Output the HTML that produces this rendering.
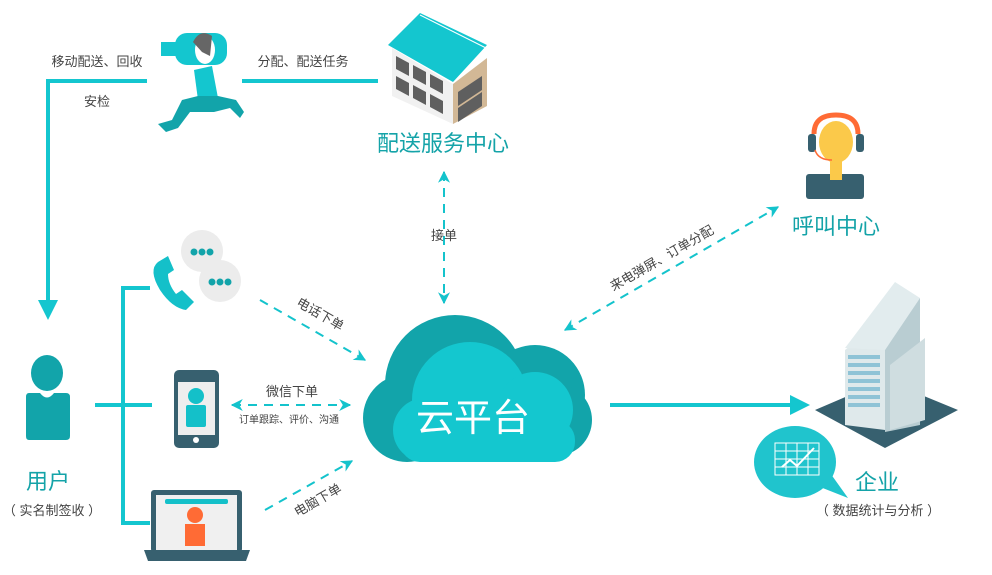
<!DOCTYPE html>
<html><head><meta charset="utf-8"><style>
html,body{margin:0;padding:0;background:#fff;}
svg{display:block;}
text{font-family:"Liberation Sans","Noto Sans CJK SC",sans-serif;}
</style></head><body>
<svg width="992" height="575" viewBox="0 0 992 575" xmlns="http://www.w3.org/2000/svg">
<defs>
<marker id="ah" viewBox="0 0 10 10" refX="9" refY="5" markerWidth="6" markerHeight="6" orient="auto-start-reverse"><path d="M0,0 L10,5 L0,10 L3,5 z" fill="#14c3cc"/></marker>
</defs>
<g stroke="#14c6cf" stroke-width="4" fill="none">
<path d="M48,81 H147"/>
<path d="M48,79 V302"/>
<path d="M242,81 H378"/>
<path d="M150,288 H123 V523 H150"/>
<path d="M95,405 H152"/>
<path d="M610,405 H792"/>
</g>
<polygon points="38,300 58,300 48,320" fill="#14c6cf"/>
<polygon points="790,395 810,405 790,415" fill="#14c6cf"/>
<g stroke="#14c3cc" stroke-width="2" stroke-dasharray="9,7" fill="none" marker-end="url(#ah)">
<path d="M444,172 V303" marker-start="url(#ah)"/>
<path d="M260,300 L365,360"/>
<path d="M232,405 H350" marker-start="url(#ah)"/>
<path d="M265,510 L352,461"/>
<path d="M565,330 L778,207" marker-start="url(#ah)"/>
</g>
<!-- cloud -->
<g fill="#12a4aa">
<circle cx="455" cy="385" r="70"/>
<circle cx="535" cy="395" r="50"/>
<circle cx="407" cy="418" r="44"/>
<circle cx="556" cy="420" r="36"/>
<rect x="400" y="400" width="170" height="62" rx="30"/>
</g>
<g fill="#14c7cf">
<circle cx="470" cy="400" r="58"/>
<circle cx="535" cy="410" r="38"/>
<circle cx="425" cy="430" r="32"/>
<rect x="400" y="420" width="175" height="42" rx="20"/>
</g>
<text x="473" y="431" font-size="38" fill="#fff" text-anchor="middle">云平台</text>
<!-- user -->
<ellipse cx="47" cy="373" rx="16" ry="18" fill="#12a4aa"/>
<path d="M29,393 H40 Q47,402 54,393 H66 Q70,393 70,397 V436 Q70,440 66,440 H29 Q26,440 26,436 V397 Q26,393 29,393z" fill="#12a4aa"/>
<!-- runner -->
<rect x="175" y="33" width="52" height="32" rx="12" fill="#14c6cf"/>
<rect x="161" y="42" width="16" height="14" fill="#14c6cf"/>
<ellipse cx="205" cy="50" rx="10" ry="14" fill="#fff"/>
<path d="M193,42 Q200,28 212,36 L210,56 L202,52z" fill="#666"/>
<path d="M194,70 L212,66 L218,98 L198,100z" fill="#14c6cf"/>
<path d="M198,96 L218,96 L236,100 L244,112 L240,118 L230,108 L214,112 L190,112 L178,128 L166,132 L158,124 L172,120 L182,100z" fill="#12a4aa"/>
<!-- building -->
<polygon points="392,48 453,84 453,124 392,96" fill="#f1f1f1"/>
<polygon points="453,84 487,58 487,106 453,124" fill="#d2b896"/>
<polygon points="388,45 420,13 487,45 453,82" fill="#14c6cf"/>
<line x1="420" y1="15" x2="486" y2="48" stroke="#fff" stroke-width="1"/>
<g fill="#5f5f5f">
<polygon points="396,56 409,63 409,76 396,69"/><polygon points="413,65 426,72 426,85 413,78"/><polygon points="430,74 443,81 443,94 430,87"/>
<polygon points="396,76 409,83 409,96 396,89"/><polygon points="413,85 426,92 426,105 413,98"/><polygon points="430,94 443,101 443,114 430,107"/>
<polygon points="458,92 482,76 482,90 458,106"/><polygon points="458,108 482,92 482,106 458,122"/>
</g>
<text x="443" y="151" font-size="22" fill="#14a3a8" text-anchor="middle">配送服务中心</text>
<!-- chat + phone -->
<circle cx="202" cy="251" r="21" fill="#ececec"/>
<circle cx="220" cy="281" r="21" fill="#ececec"/>
<g fill="#12a4aa"><circle cx="194" cy="252" r="3.5"/><circle cx="202" cy="252" r="3.5"/><circle cx="210" cy="252" r="3.5"/>
<circle cx="212" cy="282" r="3.5"/><circle cx="220" cy="282" r="3.5"/><circle cx="228" cy="282" r="3.5"/></g>
<path d="M158,262 Q148,270 160,290 Q172,308 186,310 L194,302 L182,290 L176,294 Q168,284 168,274 L174,270 L168,256z" fill="#14c0c9"/>
<!-- mobile -->
<rect x="174" y="370" width="45" height="78" rx="5" fill="#37606f"/>
<rect x="178" y="382" width="37" height="53" fill="#eee"/>
<circle cx="196" cy="396" r="8" fill="#14c0c9"/>
<rect x="186" y="405" width="20" height="22" rx="2" fill="#14c0c9"/>
<circle cx="196" cy="440" r="3" fill="#fff"/>
<!-- laptop -->
<rect x="151" y="490" width="91" height="62" rx="3" fill="#37606f"/>
<rect x="156" y="495" width="81" height="55" fill="#f0f0f0"/>
<rect x="165" y="499" width="63" height="5" rx="2" fill="#14c0c9"/>
<circle cx="195" cy="515" r="8" fill="#ff6b35"/>
<rect x="185" y="524" width="20" height="22" fill="#ff6b35"/>
<path d="M144,550 H250 L246,561 H148z" fill="#37606f"/>
<!-- call center -->
<path d="M814,134 Q814,115 836,115 Q858,115 858,134" stroke="#ff6b35" stroke-width="5" fill="none"/>
<ellipse cx="836" cy="142" rx="17" ry="21" fill="#fbc94a"/>
<rect x="830" y="160" width="12" height="18" fill="#fbc94a"/>
<rect x="808" y="134" width="8" height="18" rx="3" fill="#37606f"/>
<rect x="856" y="134" width="8" height="18" rx="3" fill="#37606f"/>
<path d="M815,150 Q818,160 832,160" stroke="#ff6b35" stroke-width="1.5" fill="none"/>
<rect x="806" y="174" width="58" height="25" rx="3" fill="#37606f"/>
<rect x="830" y="174" width="12" height="6" fill="#fbc94a"/>
<text x="836" y="234" font-size="22" fill="#14a3a8" text-anchor="middle">呼叫中心</text>
<!-- enterprise -->
<polygon points="815,410 885,380 958,410 885,448" fill="#37606f"/>
<polygon points="845,350 885,320 885,430 845,425" fill="#dfe9eb"/>
<polygon points="845,348 895,282 920,298 885,350" fill="#e2ecee"/>
<polygon points="885,350 920,298 920,425 885,432" fill="#b9cdd2"/>
<polygon points="890,365 925,338 925,420 890,430" fill="#cfdde0"/>
<g fill="#8fc3d6"><rect x="848" y="355" width="32" height="4"/><rect x="848" y="363" width="32" height="4"/><rect x="848" y="371" width="32" height="4"/><rect x="848" y="379" width="32" height="4"/><rect x="848" y="387" width="32" height="4"/><rect x="848" y="395" width="32" height="4"/><rect x="848" y="403" width="32" height="4"/></g>
<ellipse cx="795" cy="462" rx="41" ry="36" fill="#20c4cd"/>
<polygon points="815,485 848,498 828,470" fill="#20c4cd"/>
<g stroke="#fff" stroke-width="1" fill="none"><rect x="775" y="443" width="44" height="32"/>
<path d="M775,451 H819 M775,459 H819 M775,467 H819 M786,443 V475 M797,443 V475 M808,443 V475"/>
<path d="M782,467 L790,460 L797,466 L814,448" stroke-width="2"/></g>
<text x="877" y="490" font-size="22" fill="#14a3a8" text-anchor="middle">企业</text>
<text x="878" y="515" font-size="13" fill="#444" text-anchor="middle">（ 数据统计与分析 ）</text>
<g fill="#444" font-size="13">
<text x="97" y="66" text-anchor="middle">移动配送、回收</text>
<text x="97" y="106" text-anchor="middle">安检</text>
<text x="303" y="66" text-anchor="middle">分配、配送任务</text>
<text x="444" y="240" text-anchor="middle">接单</text>
<text x="292" y="396" text-anchor="middle">微信下单</text>
<text x="289" y="423" text-anchor="middle" font-size="10">订单跟踪、评价、沟通</text>
<text transform="translate(318,318) rotate(30)" text-anchor="middle">电话下单</text>
<text transform="translate(320,504) rotate(-30)" text-anchor="middle">电脑下单</text>
<text transform="translate(664,262) rotate(-30)" text-anchor="middle">来电弹屏、订单分配</text>
</g>
<text x="48" y="489" font-size="22" fill="#14a3a8" text-anchor="middle">用户</text>
<text x="52" y="515" font-size="13" fill="#444" text-anchor="middle">（ 实名制签收 ）</text>
</svg>
</body></html>
